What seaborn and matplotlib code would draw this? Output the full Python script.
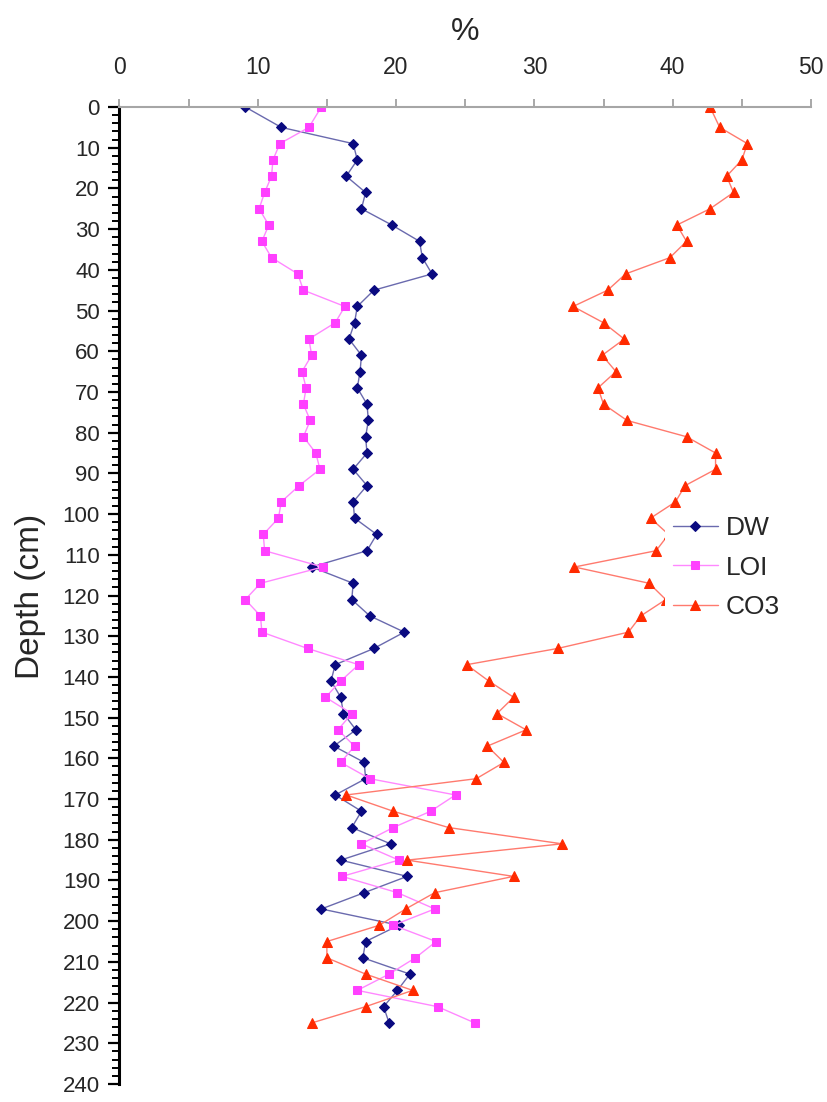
import matplotlib
matplotlib.use("Agg")
import matplotlib.pyplot as plt
import seaborn as sns
from matplotlib.ticker import MultipleLocator

# Sampling depths (cm)
depth = [0] + list(range(5, 226, 4))

# Dry weight (%)
dw = [9.1, 11.7, 16.9, 17.2, 16.4, 17.8, 17.5, 19.7, 21.7, 21.9,
      22.6, 18.4, 17.2, 17.0, 16.6, 17.5, 17.4, 17.2, 17.9, 18.0,
      17.8, 17.9, 16.9, 17.9, 16.9, 17.0, 18.6, 17.9, 13.9, 16.9,
      16.8, 18.1, 20.6, 18.4, 15.6, 15.3, 16.0, 16.2, 17.1, 15.5,
      17.7, 17.8, 15.6, 17.5, 16.8, 19.6, 16.0, 20.8, 17.7, 14.6,
      20.2, 17.8, 17.6, 21.0, 20.1, 19.1, 19.5]

# Loss on ignition (%)
loi = [14.6, 13.7, 11.6, 11.1, 11.0, 10.5, 10.1, 10.8, 10.3, 11.0,
       12.9, 13.3, 16.3, 15.6, 13.7, 13.9, 13.2, 13.5, 13.3, 13.8,
       13.3, 14.2, 14.5, 13.0, 11.7, 11.5, 10.4, 10.5, 14.7, 10.2,
       9.1, 10.2, 10.3, 13.6, 17.3, 16.0, 14.9, 16.8, 15.8, 17.0,
       16.0, 18.1, 24.3, 22.5, 19.8, 17.5, 20.2, 16.1, 20.1, 22.8,
       19.8, 22.9, 21.4, 19.5, 17.2, 23.0, 25.7]

# Carbonate (%)
co3 = [42.7, 43.4, 45.4, 45.0, 43.9, 44.4, 42.7, 40.3, 41.0, 39.8,
       36.6, 35.3, 32.8, 35.0, 36.5, 34.9, 35.9, 34.6, 35.0, 36.7,
       41.0, 43.1, 43.1, 40.9, 40.2, 38.4, 39.7, 38.8, 32.9, 38.3,
       39.5, 37.7, 36.8, 31.7, 25.1, 26.7, 28.5, 27.3, 29.4, 26.6,
       27.8, 25.8, 16.4, 19.8, 23.8, 32.0, 20.8, 28.5, 22.8, 20.7,
       18.8, 15.0, 15.0, 17.8, 21.2, 17.8, 13.9]

series_names = ["DW", "LOI", "CO3"]

sns.set_style("white")
plt.rcParams["font.family"] = ["Liberation Sans", "DejaVu Sans"]

W, H = 828, 1102
fig = plt.figure(figsize=(W / 100, H / 100), dpi=100)
x0, x1 = 119.4, 811.0
y0, y1 = 107.0, 1084.0
ax = fig.add_axes([x0 / W, 1 - y1 / H, (x1 - x0) / W, (y1 - y0) / H])

styles = {
    "DW": dict(line="#6a6aae", marker="D", ms=5.0, face="#0a0a80"),
    "LOI": dict(line="#ff88ff", marker="s", ms=5.6, face="#ff40ff"),
    "CO3": dict(line="#ff7a6e", marker="^", ms=6.6, face="#ff2a00"),
}

for name, vals in zip(series_names, [dw, loi, co3]):
    st = styles[name]
    sns.lineplot(x=vals, y=depth, sort=False, orient="y", estimator=None,
                 ax=ax, color=st["line"], linewidth=1.0,
                 marker=st["marker"], markersize=st["ms"],
                 markerfacecolor=st["face"], markeredgecolor=st["face"],
                 label=name)

ax.set_xlim(0, 50)
ax.set_ylim(240, 0)
ax.set_xlabel("")
ax.set_ylabel("")

# Percent axis along the top, in grey
ax.xaxis.tick_top()
ax.xaxis.set_major_locator(MultipleLocator(10))
ax.xaxis.set_minor_locator(MultipleLocator(5))
ax.tick_params(axis="x", which="both", top=True, bottom=False,
               direction="out", length=6, width=1.2,
               color="#9a9a9a", labelsize=16.5, pad=14)

# Depth axis with minor ticks every 2 cm
ax.yaxis.set_major_locator(MultipleLocator(10))
ax.yaxis.set_minor_locator(MultipleLocator(2))
ax.tick_params(axis="y", which="major", left=True, direction="out",
               length=8, width=1.6, color="black", labelsize=16, pad=6)
ax.tick_params(axis="y", which="minor", left=True, direction="out",
               length=5, width=1.4, color="black")

for s in ["bottom", "right"]:
    ax.spines[s].set_visible(False)
ax.spines["top"].set_color("#a6a6a6")
ax.spines["top"].set_linewidth(1.5)
ax.spines["left"].set_color("black")
ax.spines["left"].set_linewidth(2.2)

leg = ax.legend(loc="center left", bbox_to_anchor=(665 / W, 1 - 567.7 / H),
                bbox_transform=fig.transFigure, frameon=True, fontsize=19,
                handlelength=1.7, handletextpad=0.3, labelspacing=0.58,
                borderpad=0.3, borderaxespad=0)
leg.get_frame().set_facecolor("white")
leg.get_frame().set_edgecolor("none")
leg.get_frame().set_alpha(1)

fig.text(465 / W, 1 - 32 / H, "%", ha="center", va="center", fontsize=23)
fig.text(31 / W, 1 - 596 / H, "Depth (cm)", rotation=90, ha="center",
         va="center", fontsize=24)

fig.savefig("out.png", dpi=100)
